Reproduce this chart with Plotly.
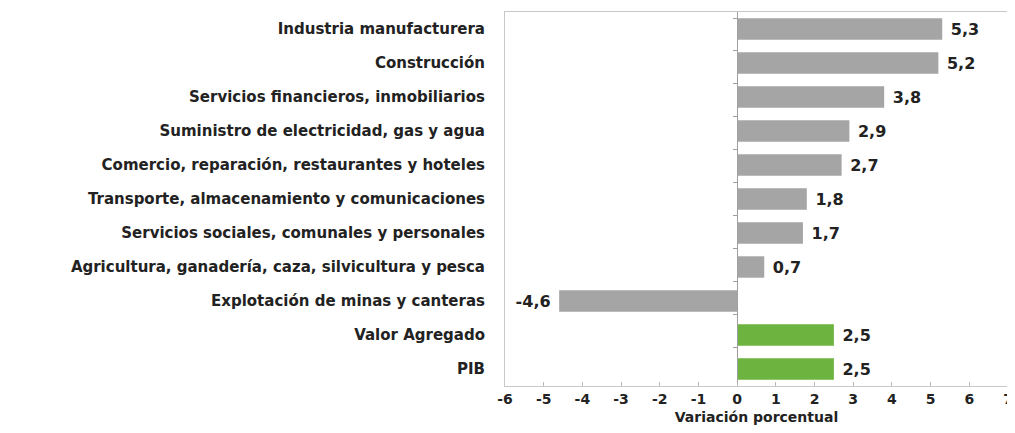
import plotly.graph_objects as go

categories = [
    "Industria manufacturera",
    "Construcción",
    "Servicios financieros, inmobiliarios",
    "Suministro de electricidad, gas y agua",
    "Comercio, reparación, restaurantes y hoteles",
    "Transporte, almacenamiento y comunicaciones",
    "Servicios sociales, comunales y personales",
    "Agricultura, ganadería, caza, silvicultura y pesca",
    "Explotación de minas y canteras",
    "Valor Agregado",
    "PIB",
]
values = [5.3, 5.2, 3.8, 2.9, 2.7, 1.8, 1.7, 0.7, -4.6, 2.5, 2.5]
is_total = [False] * 9 + [True, True]
x_ticks = list(range(-6, 8))
x_ticktext = [str(v) for v in x_ticks]

GRAY = "#a5a5a5"
GREEN = "#6db33f"
FONT = "DejaVu Sans"
colors = [GREEN if t else GRAY for t in is_total]
labels = [" " + f"{v:.1f}".replace(".", ",") + " " for v in values]

fig = go.Figure()
fig.add_trace(go.Bar(
    y=categories, x=values, orientation="h",
    marker=dict(color=colors, line=dict(width=0)),
    text=labels, textposition="outside", cliponaxis=False,
    textfont=dict(family=FONT, size=16, color="#222222", weight="bold"),
))
# invisible trace carrying the zero-line axis with category ticks
fig.add_trace(go.Scatter(
    y=categories, x=[0] * len(categories), yaxis="y2", mode="markers",
    marker=dict(opacity=0), hoverinfo="skip", showlegend=False,
))

# the page body adds an 8px offset; margins compensate for it
fig.update_layout(
    width=1007, height=425,
    margin=dict(l=497, r=7, t=4, b=47),
    paper_bgcolor="white", plot_bgcolor="white",
    showlegend=False, bargap=0.37,
    font=dict(family=FONT, color="#222222"),
    xaxis=dict(
        range=[-6, 7], tickvals=x_ticks, ticktext=x_ticktext,
        tickfont=dict(size=14, weight="bold"), ticklabeloverflow="allow",
        showgrid=False, zeroline=False,
        showline=True, linecolor="#c8c8c8", mirror=True,
        ticks="inside", ticklen=4, tickcolor="#b8b8b8",
        title=dict(text="Variación porcentual", font=dict(size=14, weight="bold"), standoff=6),
        automargin=False,
    ),
    yaxis=dict(
        categoryorder="array", categoryarray=categories, autorange="reversed",
        tickfont=dict(size=15, weight="bold"),
        showgrid=False, showline=True, linecolor="#c8c8c8", mirror=True,
        ticks="", ticklabelstandoff=16, automargin=False,
    ),
    yaxis2=dict(
        overlaying="y", anchor="free", position=6 / 13, side="left",
        categoryorder="array", categoryarray=categories, autorange="reversed",
        showticklabels=False, showgrid=False, showline=True,
        linecolor="#a0a0a0", linewidth=1,
        ticks="outside", tickson="boundaries", ticklen=4, tickcolor="#a0a0a0",
        automargin=False,
    ),
)

fig.write_html("out.html")
